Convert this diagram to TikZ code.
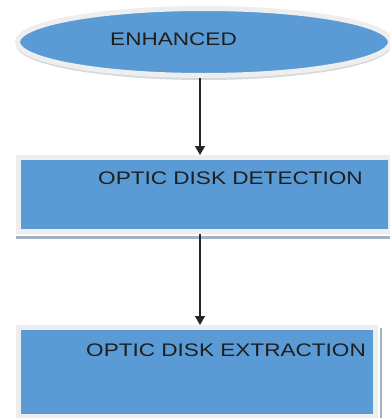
\documentclass[tikz,border=0pt]{standalone}
\usepackage{fontspec}
\newfontfamily\wide[FakeStretch=1.24]{Liberation Sans}
\usetikzlibrary{shapes.geometric,arrows.meta}
\definecolor{boxblue}{HTML}{5B9BD5}
\definecolor{ringgray}{HTML}{EEEEEE}
\definecolor{shadowgray}{HTML}{A3B2C3}
\definecolor{ellshadow}{HTML}{D5DAE0}
\definecolor{txt}{HTML}{1E1E1E}
\tikzset{
  blueshape/.style={fill=boxblue, draw=ringgray, line width=5pt, inner sep=0pt},
  lbl/.style={font=\wide\fontsize{18.2}{20}\selectfont, text=txt, anchor=base west, inner sep=0pt},
  arr/.style={draw=black!85, line width=1.4pt, -{Triangle[length=9pt,width=10pt]}},
}
\begin{document}
\begin{tikzpicture}[x=1pt,y=-1pt]
\useasboundingbox (0,0) rectangle (390,418);
\fill[white] (0,0) rectangle (390,418);
% ellipse shadow
\fill[ellshadow] (204,45) ellipse [x radius=188, y radius=35];
\node[blueshape, ellipse, minimum width=373pt, minimum height=67pt] (enh) at (204,42) {};
\node[lbl] (enhT) at (110,45) {ENHANCED};
% box 1
\fill[shadowgray] (16,235.5) rectangle (390,238.5);
\node[blueshape, rectangle, minimum width=372.5pt, minimum height=74pt] (det) at (204.25,194.5) {};
\node[lbl] (detT) at (98,184) {OPTIC DISK DETECTION};
% box 2
\fill[shadowgray] (379.5,328) rectangle (381.5,418);
\node[blueshape, rectangle, minimum width=357pt, minimum height=89pt] (ext) at (197,372) {};
\node[lbl] (extT) at (86,356) {OPTIC DISK EXTRACTION};
% connectors
\coordinate (ax) at (200,0);
\draw[arr] (ax |- enh.south) -- (ax |- det.north);
\draw[arr] (ax |- det.south) -- (ax |- ext.north);
\end{tikzpicture}
\end{document}
